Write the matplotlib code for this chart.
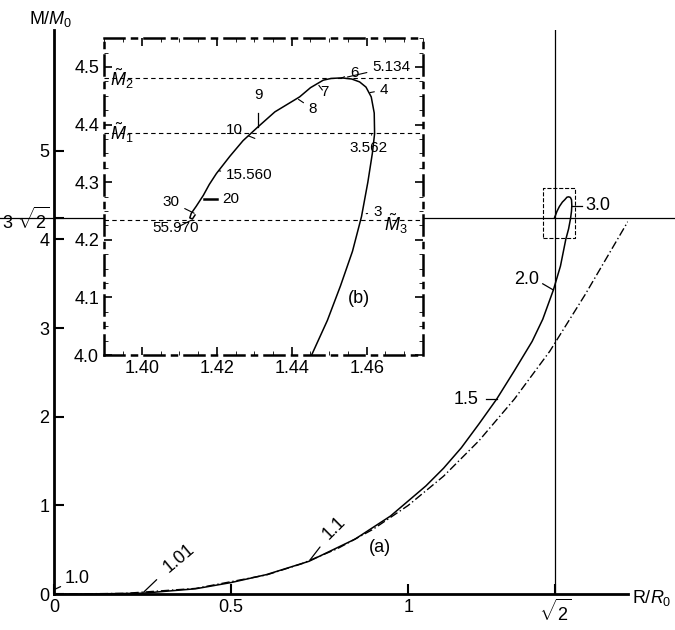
import matplotlib
matplotlib.use("Agg")
import matplotlib.pyplot as plt
import numpy as np

plt.rcParams['font.family'] = ['Liberation Sans', 'DejaVu Sans']
plt.rcParams['mathtext.fontset'] = 'custom'
plt.rcParams['mathtext.rm'] = 'Liberation Sans'
plt.rcParams['mathtext.it'] = 'Liberation Sans:italic'

# main solid curve (R/R0, M/M0)
R_main = [0.0, 0.1, 0.25, 0.4, 0.5, 0.6, 0.72, 0.85, 0.95, 1.0, 1.05, 1.1, 1.15, 1.2, 1.25, 1.3, 1.35, 1.38, 1.41, 1.43, 1.445, 1.453, 1.4586, 1.4612, 1.4621, 1.4612, 1.4581, 1.4533, 1.4484, 1.4421, 1.4355, 1.427, 1.4199, 1.4164, 1.4132, 1.4142]
M_main = [0.0, 0.001, 0.01, 0.06, 0.13, 0.22, 0.37, 0.62, 0.88, 1.05, 1.22, 1.42, 1.65, 1.92, 2.2, 2.52, 2.85, 3.1, 3.43, 3.7, 4.0, 4.12, 4.24, 4.32, 4.384, 4.448, 4.474, 4.481, 4.477, 4.448, 4.422, 4.372, 4.315, 4.277, 4.246, 4.243]
# dash-dot reference curve
R_ref = [0.0, 0.2, 0.4, 0.6, 0.7, 0.8, 0.9, 1.0, 1.1, 1.2, 1.3, 1.4, 1.5, 1.62]
M_ref = [0.0, 0.008, 0.064, 0.216, 0.343, 0.512, 0.729, 1.0, 1.33, 1.73, 2.2, 2.74, 3.38, 4.2]
# inset curve
R_in = [1.4453, 1.4495, 1.453, 1.4562, 1.4586, 1.4603, 1.4615, 1.4621, 1.462, 1.4612, 1.4598, 1.4581, 1.456, 1.4533, 1.4505, 1.4484, 1.445, 1.4421, 1.4355, 1.431, 1.427, 1.4235, 1.4199, 1.418, 1.4164, 1.4145, 1.4132, 1.4128, 1.4135, 1.4142]
M_in = [4.0, 4.06, 4.12, 4.18, 4.24, 4.3, 4.35, 4.384, 4.42, 4.448, 4.465, 4.474, 4.479, 4.481, 4.48, 4.477, 4.464, 4.448, 4.422, 4.396, 4.372, 4.345, 4.315, 4.296, 4.277, 4.258, 4.246, 4.238, 4.236, 4.243]
M_tilde = [4.385, 4.48, 4.234]

fig = plt.figure(figsize=(6.75, 6.3), dpi=100)
ax = fig.add_axes([0.08, 0.057, 0.85, 0.895])
ax.plot(R_main, M_main, color="black", lw=1.1)
ax.plot(R_ref, M_ref, color="black", lw=1.0, ls=(0, (6, 2, 1, 2)))
ax.set_xlim(0, 1.62)
ax.set_ylim(0, 6.36)
for s in ["top", "right"]:
    ax.spines[s].set_visible(False)
ax.spines["left"].set_linewidth(2)
ax.spines["bottom"].set_linewidth(2)
ax.set_xticks([0, 0.5, 1, np.sqrt(2)])
ax.set_xticklabels(["0", "0.5", "1", r"$\sqrt{2}$"], fontsize=13)
ax.set_yticks([0, 1, 2, 3, 4, 5, 3*np.sqrt(2)])
ax.set_yticklabels(["0", "1", "2", "3", "4", "5", r"3 $\sqrt{2}$"], fontsize=13)
ax.tick_params(direction="in", length=7, width=1.5)
ax.axvline(np.sqrt(2), color="black", lw=0.9)
ax.plot([-0.2, 1.8], [3*np.sqrt(2)]*2, color="black", lw=0.9, clip_on=False)
ax.plot([1.381, 1.47, 1.47, 1.381, 1.381], [4.02, 4.02, 4.58, 4.58, 4.02], color="black", lw=0.8, ls="--")
fig.text(0.995, 0.05, r"R/$R_0$", fontsize=13, ha="right", va="center")
fig.text(0.075, 0.985, r"M/$M_0$", fontsize=13, ha="center", va="top")
ax.text(0.89, 0.47, "(a)", fontsize=13)
def lab(a, x, y, t, tx, ty, rot=0):
    a.annotate(t, (x, y), (tx, ty), fontsize=13, rotation=rot,
               arrowprops=dict(arrowstyle="-", lw=0.9, shrinkA=1, shrinkB=1))
lab(ax, 0.0, 0.05, "1.0", 0.03, 0.12)
lab(ax, 0.25, 0.01, "1.01", 0.3, 0.25, 40)
lab(ax, 0.72, 0.37, "1.1", 0.75, 0.62, 45)
ax.plot([1.22, 1.25], [2.2, 2.2], color="black", lw=0.9)
ax.text(1.2, 2.2, "1.5", fontsize=13, ha="right", va="center")
ax.plot([1.38, 1.41], [3.5, 3.43], color="black", lw=0.9)
ax.text(1.37, 3.55, "2.0", fontsize=13, ha="right", va="center")
ax.plot([1.462, 1.49], [4.38, 4.38], color="black", lw=0.9)
ax.text(1.5, 4.38, "3.0", fontsize=13, va="center")

ins = fig.add_axes([0.154, 0.4365, 0.4726, 0.503])
ins.plot(R_in, M_in, color="black", lw=1.1)
ins.set_xlim(1.3899, 1.475)
ins.set_ylim(4.0, 4.55)
for s in ins.spines.values():
    s.set_linestyle((0, (8, 3, 2, 3)))
    s.set_linewidth(1.8)
ins.set_xticks([1.40, 1.42, 1.44, 1.46])
ins.set_xticklabels(["1.40", "1.42", "1.44", "1.46"])
ins.set_yticks([4.0, 4.1, 4.2, 4.3, 4.4, 4.5])
ins.set_xticks(np.arange(1.39, 1.476, 0.005), minor=True)
ins.set_yticks(np.arange(4.0, 4.551, 0.025), minor=True)
ins.tick_params(direction="in", labelsize=13, length=6, width=1.2, top=True, right=True)
ins.tick_params(which="minor", direction="in", length=3, top=True, right=True)
for m in M_tilde:
    ins.axhline(m, color="black", lw=0.8, ls=(0, (4, 3)))
ins.text(1.3915, 4.48, r"$\tilde{M}_2$", fontsize=13, va="center")
ins.text(1.3915, 4.385, r"$\tilde{M}_1$", fontsize=13, va="center")
ins.text(1.4645, 4.228, r"$\tilde{M}_3$", fontsize=13, va="center")
ins.text(1.455, 4.09, "(b)", fontsize=13)
ft = 11
pts = [(1.453, 4.48, "6", 1.4555, 4.49), (1.4545, 4.482, "5.134", 1.4615, 4.5),
       (1.4605, 4.455, "4", 1.4635, 4.46), (1.447, 4.47, "7", 1.4475, 4.456),
       (1.4415, 4.445, "8", 1.4445, 4.427), (1.4305, 4.375, "10", 1.4225, 4.39),
       (1.4614, 4.385, "3.562", 1.4555, 4.36), (1.4202, 4.32, "15.560", 1.4225, 4.312),
       (1.4143, 4.245, "30", 1.4055, 4.266), (1.4132, 4.234, "55.970", 1.4028, 4.22),
       (1.4595, 4.245, "3", 1.4617, 4.248)]
for x, y, t, tx, ty in pts:
    ins.annotate(t, (x, y), (tx, ty), fontsize=ft, va="center",
                 arrowprops=dict(arrowstyle="-", lw=0.8, shrinkA=2, shrinkB=1))
ins.plot([1.431, 1.431], [4.395, 4.42], color="black", lw=0.9)
ins.text(1.431, 4.445, "9", fontsize=ft, ha="center")
ins.plot([1.4165, 1.42], [4.27, 4.27], color="black", lw=1.8)
ins.text(1.4215, 4.27, "20", fontsize=ft, va="center")
fig.savefig("out.png", dpi=100)
